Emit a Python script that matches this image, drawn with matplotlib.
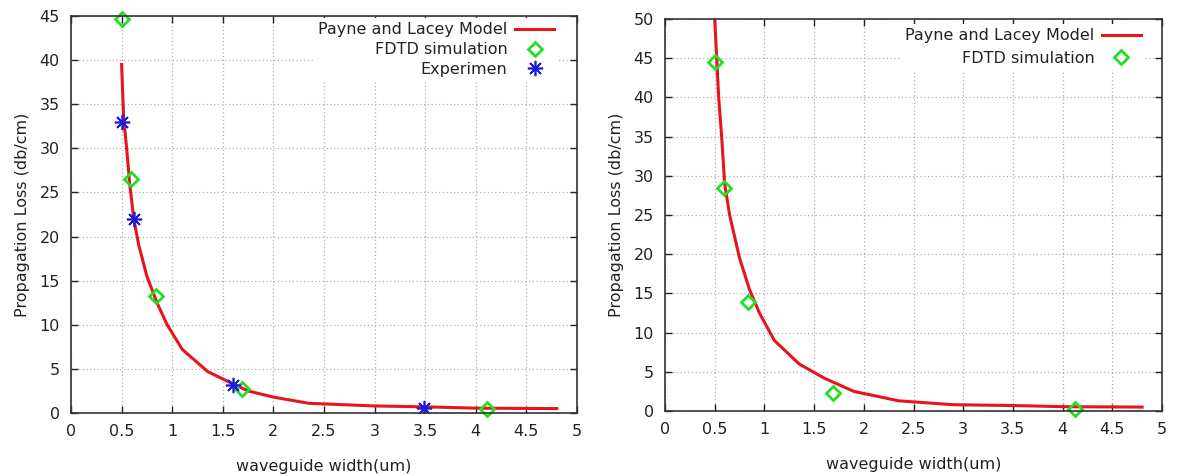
import matplotlib
matplotlib.use("Agg")
import matplotlib.pyplot as plt

plt.rcParams["font.family"] = ["DejaVu Sans"]

# left panel
model_x_left = [0.5, 0.52, 0.55, 0.58, 0.62, 0.67, 0.75, 0.85, 0.95, 1.1, 1.35, 1.6, 1.75, 2.0,
                2.35, 3.0, 3.5, 4.0, 4.8]
model_y_left = [39.5, 33.5, 30.0, 26.0, 22.0, 19.0, 15.5, 12.5, 10.0, 7.2, 4.7, 3.3, 2.5, 1.8,
                1.1, 0.8, 0.7, 0.55, 0.5]
fdtd_x_left = [0.5, 0.59, 0.84, 1.69, 4.11]
fdtd_y_left = [44.7, 26.5, 13.3, 2.7, 0.5]
exp_x = [0.5, 0.62, 1.6, 3.49]
exp_y = [33.0, 22.0, 3.2, 0.6]

# right panel
model_x_right = [0.5, 0.52, 0.54, 0.57, 0.6, 0.65, 0.75, 0.85, 0.95, 1.1, 1.35, 1.6, 1.9,
                 2.35, 2.9, 3.5, 4.0, 4.8]
model_y_right = [50.0, 45.0, 40.0, 35.0, 29.0, 25.0, 19.5, 15.5, 12.5, 9.0, 6.0, 4.2, 2.5,
                 1.3, 0.8, 0.7, 0.55, 0.5]
fdtd_x_right = [0.5, 0.59, 0.84, 1.69, 4.12]
fdtd_y_right = [44.5, 28.5, 13.9, 2.3, 0.3]

RED = "#e8141c"
GREEN = "#22dd22"
BLUE = "#1a1adc"
FS = 11.5


def style_axes(ax, ymax, ystep):
    ax.set_xlim(0, 5)
    ax.set_ylim(0, ymax)
    ax.set_xticks([0, 0.5, 1, 1.5, 2, 2.5, 3, 3.5, 4, 4.5, 5])
    ax.set_xticklabels(["0", "0.5", "1", "1.5", "2", "2.5", "3", "3.5", "4", "4.5", "5"])
    ax.set_yticks(range(0, ymax + 1, ystep))
    ax.grid(True, color="#b0b0b0", linestyle=(0, (1, 2)), linewidth=0.9)
    ax.set_axisbelow(True)
    ax.tick_params(direction="in", length=5, width=1, top=True, right=True,
                   labelsize=FS, pad=8, colors="#222222")
    for s in ax.spines.values():
        s.set_linewidth(1.2)
        s.set_color("#333333")
    ax.set_xlabel("waveguide width(um)", fontsize=FS, labelpad=14, color="#222222")
    ax.set_ylabel("Propagation Loss (db/cm)", fontsize=FS, labelpad=7, color="#222222")


def add_legend(ax, anchor, spacing):
    leg = ax.legend(loc="upper right", bbox_to_anchor=anchor, markerfirst=False,
                    frameon=True, fontsize=FS, handlelength=2.4, handletextpad=0.5,
                    labelspacing=spacing, borderaxespad=0, borderpad=0.25, fancybox=False)
    leg.get_frame().set_edgecolor("none")
    leg.get_frame().set_facecolor("white")
    leg.get_frame().set_alpha(1.0)
    for t in leg.get_texts():
        t.set_color("#222222")


fig = plt.figure(figsize=(11.77, 4.76), dpi=100)
ax1 = fig.add_axes([71 / 1177, 63 / 476, 506 / 1177, 397 / 476])
ax2 = fig.add_axes([665 / 1177, 65 / 476, 497 / 1177, 392 / 476])

ax1.plot(model_x_left, model_y_left, color=RED, lw=2.2, label="Payne and Lacey Model")
ax1.plot(fdtd_x_left, fdtd_y_left, linestyle="none", marker="D", ms=7, mfc="none",
         mec=GREEN, mew=2, label="FDTD simulation", clip_on=False)
ax1.plot(exp_x, exp_y, linestyle="none", marker=(8, 2, 0), ms=11, mec=BLUE, mew=1.2,
         label="Experimen")
style_axes(ax1, 45, 5)
add_legend(ax1, (0.962, 0.994), 0.3)

ax2.plot(model_x_right, model_y_right, color=RED, lw=2.2, label="Payne and Lacey Model")
ax2.plot(fdtd_x_right, fdtd_y_right, linestyle="none", marker="D", ms=7, mfc="none",
         mec=GREEN, mew=2, label="FDTD simulation", clip_on=False)
style_axes(ax2, 50, 5)
add_legend(ax2, (0.965, 0.986), 0.45)

fig.savefig("out.png", dpi=100)
